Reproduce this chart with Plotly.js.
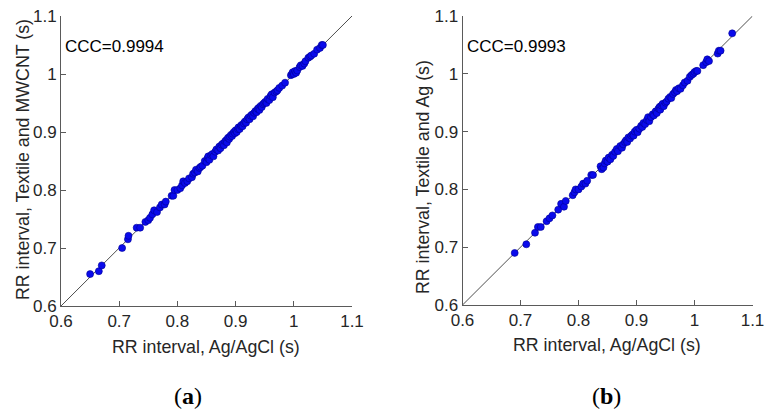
<!DOCTYPE html>
<html>
<head>
<meta charset="utf-8">
<script src="https://cdn.plot.ly/plotly-3.0.1.min.js"></script>
<style>html,body{margin:0;padding:0;background:#fff;}#chart{width:773px;height:418px;}</style>
</head>
<body>
<div id="chart"></div>
<script>
// Panel (a): Ag/AgCl vs Textile and MWCNT
const aX = [0.650,0.665,0.670,0.705,0.715,0.716,0.730,0.736,0.745,0.750,0.753,0.757,0.760,0.765,0.770,0.773,0.778,0.780,0.790,0.793,
0.795,0.800,0.805,0.808,0.810,0.813,0.817,0.820,0.825,0.827,0.830,0.832,0.835,0.838,0.840,0.843,0.847,0.850,0.852,0.853,
0.855,0.858,0.860,0.862,0.865,0.867,0.870,0.872,0.874,0.876,0.878,0.880,0.882,0.884,0.885,0.887,0.889,0.890,0.892,0.894,
0.895,0.897,0.899,0.900,0.902,0.904,0.905,0.907,0.909,0.910,0.912,0.914,0.916,0.918,0.920,0.922,0.924,0.926,0.928,0.930,
0.932,0.934,0.936,0.938,0.940,0.941,0.943,0.945,0.947,0.949,0.951,0.953,0.955,0.958,0.960,0.962,0.964,0.967,0.970,0.972,
0.975,0.980,0.985,0.995,0.997,0.998,1.000,1.002,1.004,1.006,1.010,1.012,1.015,1.018,1.020,1.025,1.028,1.030,1.035,1.040,
1.045,1.048,1.050];
const aY = [0.655,0.660,0.670,0.700,0.715,0.721,0.735,0.735,0.745,0.748,0.752,0.758,0.765,0.762,0.770,0.775,0.775,0.780,0.790,0.790,
0.800,0.800,0.803,0.808,0.815,0.812,0.815,0.820,0.822,0.828,0.830,0.835,0.832,0.838,0.840,0.842,0.850,0.848,0.855,0.858,
0.852,0.860,0.862,0.858,0.866,0.870,0.868,0.875,0.872,0.878,0.880,0.877,0.884,0.886,0.882,0.890,0.888,0.892,0.895,0.893,
0.897,0.900,0.898,0.903,0.900,0.905,0.908,0.905,0.910,0.912,0.910,0.915,0.918,0.916,0.922,0.925,0.922,0.928,0.930,0.927,
0.933,0.936,0.934,0.940,0.942,0.938,0.945,0.943,0.948,0.950,0.952,0.950,0.957,0.955,0.962,0.965,0.960,0.968,0.970,0.972,
0.976,0.980,0.985,0.998,1.000,1.003,1.000,1.005,1.002,1.006,1.012,1.015,1.014,1.018,1.022,1.028,1.030,1.032,1.035,1.042,
1.045,1.050,1.050];

// Panel (b): Ag/AgCl vs Textile and Ag
const bX = [0.690,0.710,0.725,0.730,0.735,0.745,0.750,0.755,0.765,0.770,0.775,0.778,0.790,0.793,0.795,0.800,0.805,0.808,0.812,0.815,
0.822,0.825,0.838,0.840,0.843,0.845,0.847,0.850,0.852,0.855,0.858,0.860,0.863,0.866,0.868,0.872,0.875,0.877,0.880,0.882,
0.884,0.886,0.889,0.891,0.893,0.895,0.897,0.900,0.902,0.905,0.908,0.910,0.912,0.915,0.918,0.920,0.922,0.925,0.928,0.930,
0.933,0.935,0.938,0.940,0.941,0.943,0.945,0.947,0.950,0.952,0.955,0.958,0.960,0.963,0.966,0.968,0.970,0.973,0.976,0.980,
0.983,0.988,0.992,0.995,0.998,1.000,1.003,1.005,1.015,1.020,1.022,1.025,1.040,1.042,1.045,1.065];
const bY = [0.690,0.705,0.725,0.735,0.735,0.745,0.750,0.755,0.765,0.775,0.770,0.780,0.790,0.795,0.800,0.800,0.805,0.810,0.810,0.815,
0.825,0.825,0.840,0.835,0.838,0.845,0.850,0.848,0.855,0.852,0.860,0.858,0.865,0.870,0.866,0.875,0.872,0.878,0.882,0.885,
0.882,0.890,0.888,0.893,0.895,0.893,0.900,0.903,0.899,0.905,0.910,0.908,0.915,0.913,0.920,0.925,0.918,0.925,0.930,0.928,
0.935,0.932,0.940,0.943,0.938,0.945,0.948,0.944,0.950,0.952,0.957,0.960,0.958,0.965,0.968,0.972,0.970,0.975,0.974,0.980,
0.985,0.988,0.995,0.998,1.000,1.003,1.005,1.005,1.015,1.020,1.025,1.022,1.035,1.040,1.040,1.070];

const identity = [0.6, 1.1];
const tickVals = [0.6, 0.7, 0.8, 0.9, 1.0, 1.1];
const tickText = ['0.6', '0.7', '0.8', '0.9', '1', '1.1'];
const cccA = 'CCC=0.9994';
const cccB = 'CCC=0.9993';
const xTitle = 'RR interval, Ag/AgCl (s)';
const yTitleA = 'RR interval, Textile and MWCNT (s)';
const yTitleB = 'RR interval, Textile and Ag (s)';

const W = 773, H = 418;
const fx = p => p / W;
const fy = p => 1 - p / H;

const markerStyle = {size: 7, color: 'rgb(10,10,235)', line: {color: 'rgb(0,0,150)', width: 0.6}};
const lineStyle = {color: '#3a3a3a', width: 0.9};

const data = [
  {x: identity, y: identity, mode: 'lines', line: lineStyle, xaxis: 'x', yaxis: 'y', hoverinfo: 'skip'},
  {x: aX, y: aY, mode: 'markers', marker: markerStyle, xaxis: 'x', yaxis: 'y'},
  {x: identity, y: identity, mode: 'lines', line: lineStyle, xaxis: 'x2', yaxis: 'y2', hoverinfo: 'skip'},
  {x: bX, y: bY, mode: 'markers', marker: markerStyle, xaxis: 'x2', yaxis: 'y2'}
];

const SANS = 'Arial, Liberation Sans, sans-serif';
const tickFont = {family: SANS, size: 17, color: '#262626'};
function ax(domain, anchor) {
  return {
    domain: domain, anchor: anchor, range: [0.6, 1.1],
    tickmode: 'array', tickvals: tickVals, ticktext: tickText,
    ticks: 'inside', ticklen: 5, tickwidth: 1, tickcolor: '#5a5a5a',
    showline: true, linecolor: '#5a5a5a', linewidth: 1, mirror: false,
    showgrid: false, zeroline: false, tickfont: tickFont, fixedrange: true
  };
}

const layout = {
  width: W, height: H,
  margin: {l: 0, r: 0, t: 0, b: 0},
  paper_bgcolor: '#ffffff', plot_bgcolor: '#ffffff',
  showlegend: false,
  xaxis: ax([fx(61), fx(352)], 'y'),
  yaxis: ax([fy(306), fy(16)], 'x'),
  xaxis2: ax([fx(462.5), fx(752.5)], 'y2'),
  yaxis2: ax([fy(305), fy(16)], 'x2'),
  annotations: [
    {text: cccA, xref: 'paper', yref: 'paper', x: fx(63), y: fy(47), xanchor: 'left', yanchor: 'middle', showarrow: false, font: {family: SANS, size: 17, color: '#000'}},
    {text: cccB, xref: 'paper', yref: 'paper', x: fx(465), y: fy(47), xanchor: 'left', yanchor: 'middle', showarrow: false, font: {family: SANS, size: 17, color: '#000'}},
    {text: xTitle, xref: 'paper', yref: 'paper', x: fx(206), y: fy(347), xanchor: 'center', yanchor: 'middle', showarrow: false, font: {family: SANS, size: 17.8, color: '#262626'}},
    {text: xTitle, xref: 'paper', yref: 'paper', x: fx(607), y: fy(345), xanchor: 'center', yanchor: 'middle', showarrow: false, font: {family: SANS, size: 17.8, color: '#262626'}},
    {text: yTitleA, xref: 'paper', yref: 'paper', x: fx(23), y: fy(160), xanchor: 'center', yanchor: 'middle', textangle: -90, showarrow: false, font: {family: SANS, size: 17.8, color: '#262626'}},
    {text: yTitleB, xref: 'paper', yref: 'paper', x: fx(423), y: fy(177), xanchor: 'center', yanchor: 'middle', textangle: -90, showarrow: false, font: {family: SANS, size: 17.8, color: '#262626'}},
    {text: '(<b>a</b>)', xref: 'paper', yref: 'paper', x: fx(188), y: fy(396), xanchor: 'center', yanchor: 'middle', showarrow: false, font: {family: 'Liberation Serif, DejaVu Serif, serif', size: 24, color: '#000'}},
    {text: '(<b>b</b>)', xref: 'paper', yref: 'paper', x: fx(606), y: fy(396), xanchor: 'center', yanchor: 'middle', showarrow: false, font: {family: 'Liberation Serif, DejaVu Serif, serif', size: 24, color: '#000'}}
  ]
};

Plotly.newPlot('chart', data, layout, {displayModeBar: false, staticPlot: true});
</script>
</body>
</html>
